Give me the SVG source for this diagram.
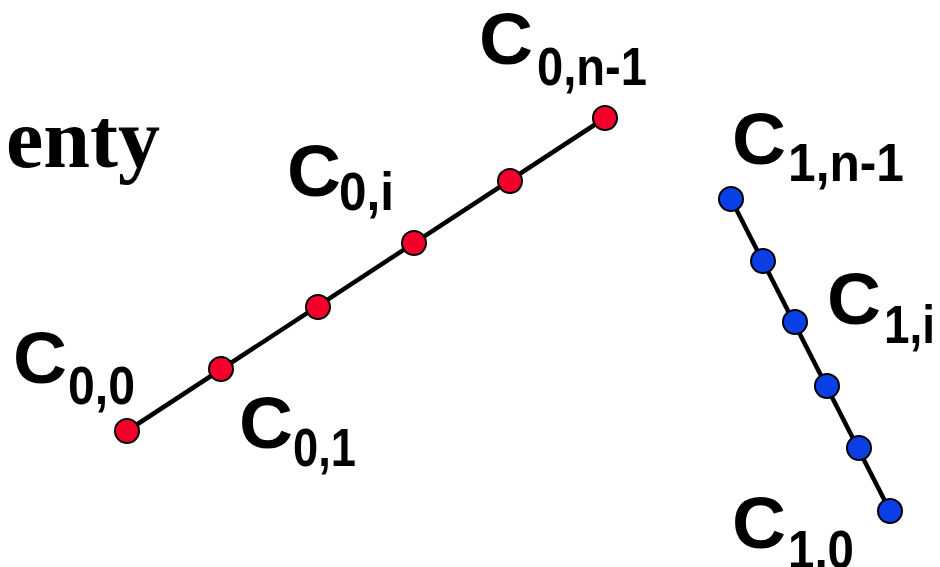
<svg xmlns="http://www.w3.org/2000/svg" width="940" height="567" viewBox="0 0 940 567">
<style>
.lbl{font-family:"Liberation Sans",Arial,sans-serif;font-weight:bold;fill:#000}
.big{font-size:72px}
.sub{font-size:54px}
.title{font-family:"Liberation Serif","Times New Roman",serif;font-weight:bold;font-size:84px;fill:#000}
.edge{stroke:#000;stroke-width:4.5;fill:none}
.red{fill:#f2002b;stroke:#000;stroke-width:2}
.blue{fill:#0a3fe6;stroke:#000;stroke-width:2}
</style>
<rect width="940" height="567" fill="#fff"/>
<text class="title" x="6" y="167">enty</text>
<g id="connectors">
<line class="edge" x1="127" y1="431" x2="605" y2="118"/>
<line class="edge" x1="731" y1="199" x2="890" y2="511"/>
</g>
<g id="c0_0"><circle class="red" cx="127" cy="431" r="12"/>
<text class="lbl big" x="13" y="383" textLength="54" lengthAdjust="spacingAndGlyphs">C</text>
<text class="lbl sub" x="68" y="404" textLength="67" lengthAdjust="spacingAndGlyphs">0,0</text></g>
<g id="c0_1"><circle class="red" cx="221" cy="369" r="12"/>
<text class="lbl big" x="239" y="448" textLength="54" lengthAdjust="spacingAndGlyphs">C</text>
<text class="lbl sub" x="293" y="466" textLength="63" lengthAdjust="spacingAndGlyphs">0,1</text></g>
<g id="c0_2"><circle class="red" cx="318" cy="307" r="12"/></g>
<g id="c0_3"><circle class="red" cx="414" cy="243" r="12"/></g>
<g id="c0_i"><circle class="red" cx="510" cy="181" r="12"/>
<text class="lbl big" x="287" y="196" textLength="54" lengthAdjust="spacingAndGlyphs">C</text>
<text class="lbl sub" x="339" y="210" textLength="55" lengthAdjust="spacingAndGlyphs">0,i</text></g>
<g id="c0_n1"><circle class="red" cx="605" cy="118" r="12"/>
<text class="lbl big" x="479" y="64" textLength="54" lengthAdjust="spacingAndGlyphs">C</text>
<text class="lbl sub" x="537" y="85" textLength="110" lengthAdjust="spacingAndGlyphs">0,n-1</text></g>
<g id="c1_n1"><circle class="blue" cx="731" cy="199" r="12"/>
<text class="lbl big" x="732" y="164" textLength="54" lengthAdjust="spacingAndGlyphs">C</text>
<text class="lbl sub" x="788" y="181" textLength="116" lengthAdjust="spacingAndGlyphs">1,n-1</text></g>
<g id="c1_1"><circle class="blue" cx="763" cy="261" r="12"/></g>
<g id="c1_i"><circle class="blue" cx="795" cy="322" r="12"/>
<text class="lbl big" x="827" y="324" textLength="54" lengthAdjust="spacingAndGlyphs">C</text>
<text class="lbl sub" x="884" y="343" textLength="51" lengthAdjust="spacingAndGlyphs">1,i</text></g>
<g id="c1_3"><circle class="blue" cx="827" cy="386" r="12"/></g>
<g id="c1_4"><circle class="blue" cx="859" cy="448" r="12"/></g>
<g id="c1_0"><circle class="blue" cx="890" cy="511" r="12"/>
<text class="lbl big" x="732" y="548" textLength="54" lengthAdjust="spacingAndGlyphs">C</text>
<text class="lbl sub" x="788" y="568" textLength="66" lengthAdjust="spacingAndGlyphs">1,0</text></g>
</svg>
